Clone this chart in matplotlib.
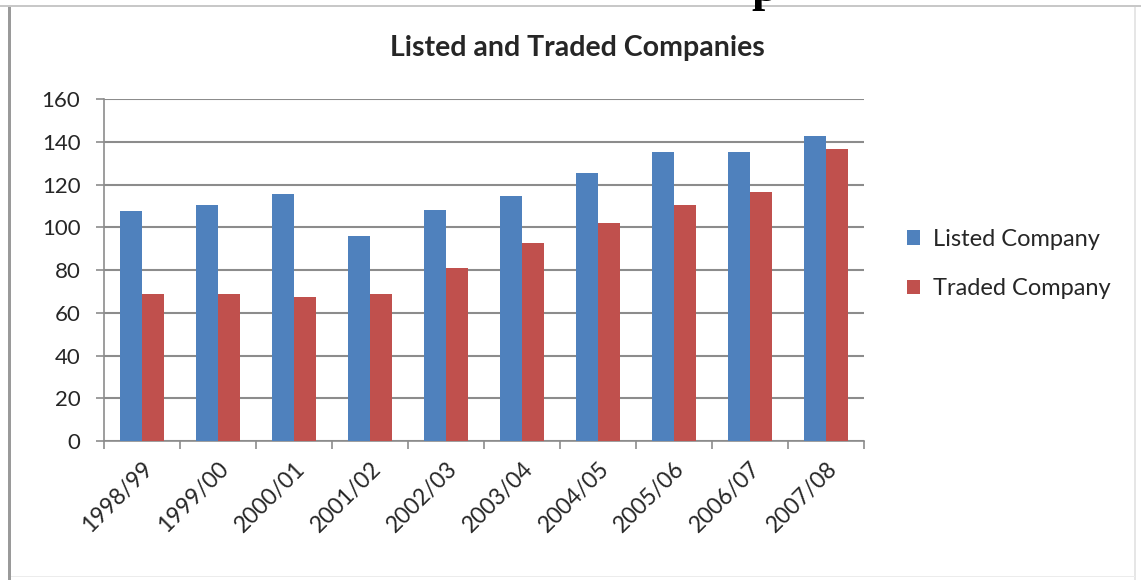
import matplotlib
matplotlib.use("Agg")
import matplotlib.pyplot as plt
import numpy as np
from matplotlib.patches import Rectangle
from matplotlib.ticker import MultipleLocator, FixedLocator

years = ["1998/99", "1999/00", "2000/01", "2001/02", "2002/03",
         "2003/04", "2004/05", "2005/06", "2006/07", "2007/08"]
listed = [107.5, 110.5, 115.5, 96, 108, 114.5, 125.5, 135, 135, 142.5]
traded = [69, 69, 67.5, 69, 81, 92.5, 102, 110.5, 116.5, 136.5]

BLUE = "#4F81BD"
RED = "#C0504D"
GRID = "#8c8c8c"
TEXT = "#262626"

plt.rcParams["font.family"] = ["Lato", "DejaVu Sans"]

W, H = 1141, 580
fig = plt.figure(figsize=(W / 100, H / 100), dpi=100)
fig.patch.set_facecolor("white")

# frame of the embedded chart
fig.add_artist(Rectangle((8 / W, 0), 3 / W, 1 - 6 / H, transform=fig.transFigure,
                         color="#9a9a9a", lw=0))
fig.add_artist(Rectangle((0, 1 - 7 / H), 1, 1.5 / H, transform=fig.transFigure,
                         color="#c8c8c8", lw=0))
fig.add_artist(Rectangle((1134 / W, 0), 1.5 / W, 1 - 7 / H, transform=fig.transFigure,
                         color="#e6e6e6", lw=0))
fig.add_artist(Rectangle((11 / W, 3 / H), 1124 / W, 1.5 / H, transform=fig.transFigure,
                         color="#ececec", lw=0))

# tail of the heading above the chart
fig.text(765 / W, 1 - 1 / H, "p", family="Liberation Serif", weight="bold",
         fontsize=34, ha="center", va="baseline", color="black")

ax = fig.add_axes([104 / W, 1 - 441 / H, 760 / W, 342 / H])
x = np.arange(len(years))
bw = 0.29
ax.bar(x - bw / 2, listed, bw, color=BLUE, label="Listed Company", zorder=3)
ax.bar(x + bw / 2, traded, bw, color=RED, label="Traded Company", zorder=3)

ax.set_xlim(-0.5, len(years) - 0.5)
ax.set_ylim(0, 160)
ax.yaxis.set_major_locator(MultipleLocator(20))
ax.grid(axis="y", color=GRID, lw=1.5, zorder=0)

for s in ["top", "right"]:
    ax.spines[s].set_visible(False)
for s in ["left", "bottom"]:
    ax.spines[s].set_color(GRID)
    ax.spines[s].set_linewidth(1.2)

ax.set_xticks(x)
ax.set_xticklabels(years, rotation=45, ha="right", rotation_mode="anchor",
                   fontsize=16.5, color=TEXT)
ax.tick_params(axis="x", which="major", length=0, pad=12)
ax.xaxis.set_minor_locator(FixedLocator(np.arange(-0.5, len(years), 1.0)))
ax.tick_params(axis="x", which="minor", length=6, color=GRID, width=1.2)
ax.tick_params(axis="y", length=6, color=GRID, width=1.2, labelsize=16,
               labelcolor=TEXT, pad=11)

fig.text(577 / W, 1 - 48 / H, "Listed and Traded Companies", ha="center",
         va="center", fontsize=20.5, weight="bold", color=TEXT)

handles, labels = ax.get_legend_handles_labels()
fig.legend(handles, labels, loc="center left", bbox_to_anchor=(886 / W, 1 - 264 / H),
           frameon=False, fontsize=17, handlelength=0.55, handleheight=0.55,
           handletextpad=0.55, labelspacing=1.2, labelcolor=TEXT)

fig.savefig("out.png", dpi=100, facecolor="white")
